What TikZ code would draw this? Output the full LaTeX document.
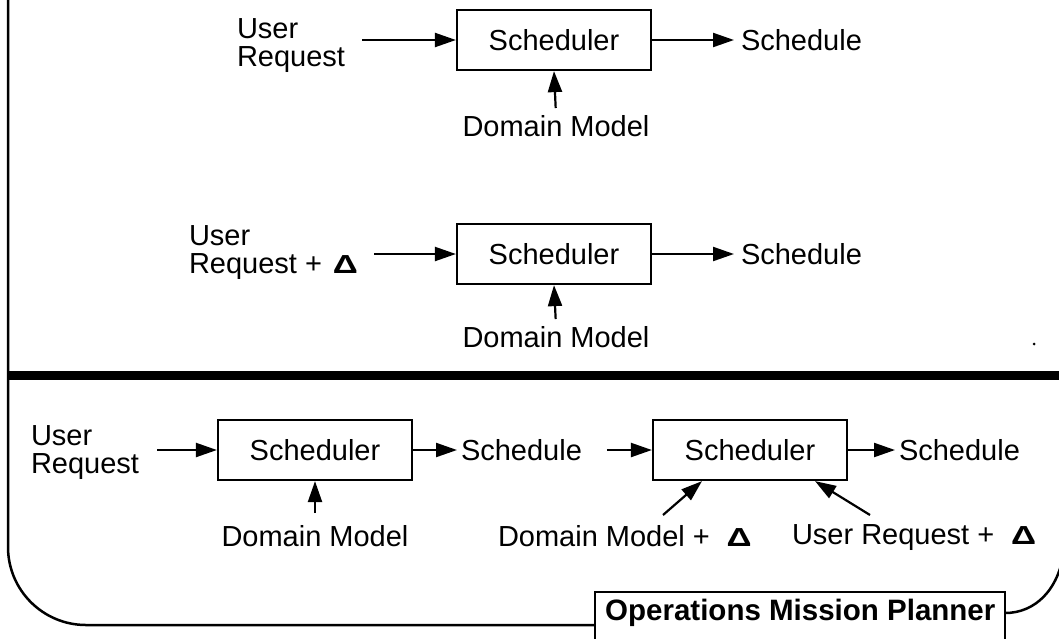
\documentclass[tikz,border=0pt]{standalone}
\usepackage{fontspec}
\setmainfont{Liberation Sans}
\usetikzlibrary{arrows.meta}
\newcommand\dlt{{\bfseries\scalebox{1.2}[0.9]{Δ}}}
\begin{document}
\begin{tikzpicture}[x=1pt,y=-1pt,
  lbl/.style={font=\fontsize{29}{28}\selectfont, inner sep=0pt, outer sep=0pt, align=left},
  sched/.style={draw, line width=2.2pt, minimum width=194pt, minimum height=60pt, inner sep=0pt, font=\fontsize{29}{28}\selectfont},
  arr/.style={line width=2.2pt, -{Triangle[length=21pt,width=14pt]}},
  bord/.style={line width=2.5pt}]
\useasboundingbox (0,0) rectangle (1059,638);
\clip (0,0) rectangle (1059,638);

% Section 1
\node[sched] (b1) at (554,40) {Scheduler};
\node[lbl, anchor=north west] (u1) at (237,19) {User\\Request};
\coordinate (s1) at (362,40);
\draw[arr] (s1) -- (b1.west);
\node[lbl, anchor=west] (o1) at (741,40) {Schedule};
\draw[arr, shorten >=7pt] (b1.east) -- (o1.west);
\node[lbl, anchor=north] (d1) at (556,115) {Domain Model};
\draw[arr, shorten <=7pt] (d1.north) -- (b1.south);

% Section 2
\node[sched] (b2) at (554,254) {Scheduler};
\node[lbl, anchor=north west] (u2) at (189,226) {User\\Request + \hspace{0.1em}\dlt};
\coordinate (s2) at (374,254);
\draw[arr] (s2) -- (b2.west);
\node[lbl, anchor=west] (o2) at (741,254) {Schedule};
\draw[arr, shorten >=7pt] (b2.east) -- (o2.west);
\node[lbl, anchor=north] (d2) at (556,326) {Domain Model};
\draw[arr, shorten <=7pt] (d2.north) -- (b2.south);

% Divider
\draw[line width=9pt] (8,375) -- (1070,375);
\fill (1034,344) circle[radius=1.5pt];

% Section 3
\node[sched] (b3) at (315,450) {Scheduler};
\node[lbl, anchor=north west] (u3) at (31,426) {User\\Request};
\coordinate (s3) at (157,450);
\draw[arr] (s3) -- (b3.west);
\node[lbl, anchor=west] (m3) at (461,450) {Schedule};
\draw[arr, shorten >=4pt] (b3.east) -- (m3.west);
\node[sched] (b4) at (750,450) {Scheduler};
\draw[arr, shorten <=25pt] (m3.east) -- (b4.west);
\node[lbl, anchor=west] (o4) at (899,450) {Schedule};
\draw[arr, shorten >=4pt] (b4.east) -- (o4.west);
\node[lbl, anchor=north] (d3) at (315,525) {Domain Model};
\draw[arr, shorten <=12pt] (d3.north) -- (b3.south);
\node[lbl, anchor=north west] (d4) at (498,525) {Domain Model + \hspace{0.3em}\dlt};
\node[lbl, anchor=north west] (u4) at (792,525) {User Request + \hspace{0.3em}\dlt};
\coordinate (t4) at (663,515);
\coordinate (t5) at (870,515);
\draw[arr] (t4) -- ([xshift=-48pt]b4.south);
\draw[arr] (t5) -- ([xshift=65pt]b4.south);

% Frame
\draw[bord, rounded corners=78pt] (8,-10) -- (8,625) -- (595,625);
\draw[line width=2.2pt] (595,645) -- (595,592) -- (1005,592) -- (1005,645);
\node[font=\bfseries\fontsize{29.5}{30}\selectfont, inner sep=0pt, anchor=base west] (omp) at (605,620) {Operations Mission Planner};
\draw[bord] (1005,613) .. controls (1035,613) and (1059,590) .. (1064,550);
\end{tikzpicture}
\end{document}
